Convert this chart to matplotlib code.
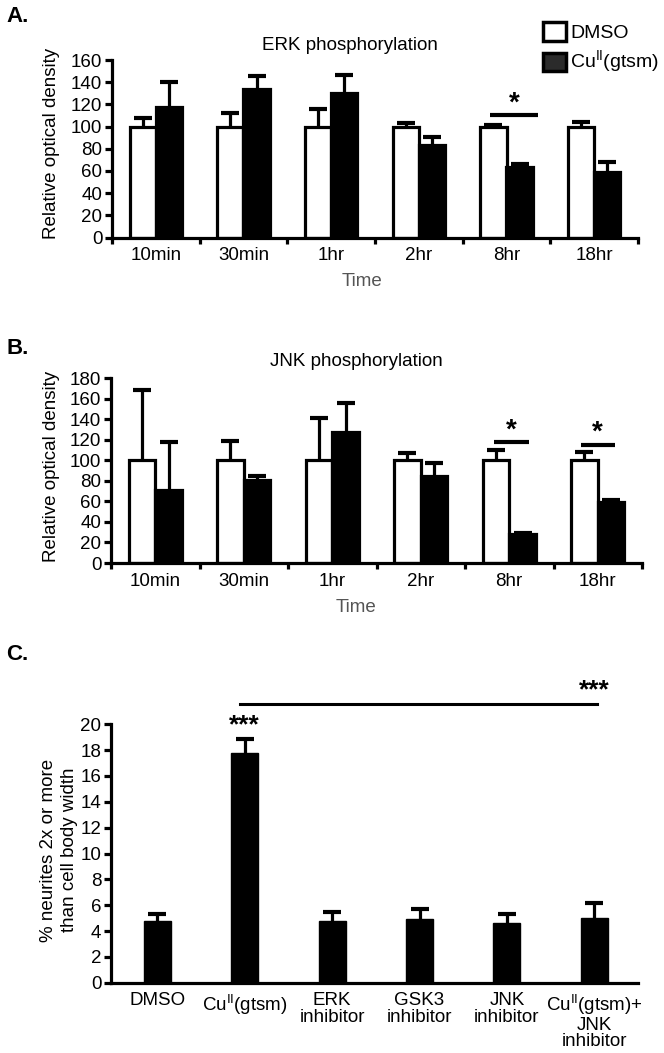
import numpy as np
import matplotlib
matplotlib.use("Agg")
import matplotlib.pyplot as plt
from matplotlib.patches import Patch

plt.rcParams['font.family'] = ['Liberation Sans', 'DejaVu Sans']
plt.rcParams['mathtext.fontset'] = 'custom'
plt.rcParams['mathtext.rm'] = 'Liberation Sans'

# ---------------- data ----------------
time_labels = ['10min', '30min', '1hr', '2hr', '8hr', '18hr']

erk_dmso = [100, 100, 100, 100, 100, 100]
erk_dmso_err = [7.5, 12, 16, 3, 1, 4.5]
erk_cu = [118, 133.5, 130, 83, 64, 59]
erk_cu_err = [22, 12.5, 16.5, 8, 2, 9]

jnk_dmso = [100, 100, 100, 100, 100, 100]
jnk_dmso_err = [68, 19, 41, 7, 9.5, 8]
jnk_cu = [71, 80.5, 127, 84.5, 28, 59]
jnk_cu_err = [47, 4.5, 29, 13, 1.5, 2.5]

c_labels = ['DMSO', 'Cu$^{\\mathregular{II}}$(gtsm)', 'ERK\ninhibitor',
            'GSK3\ninhibitor', 'JNK\ninhibitor',
            'Cu$^{\\mathregular{II}}$(gtsm)+\nJNK\ninhibitor']
c_vals = [4.8, 17.8, 4.8, 4.9, 4.6, 5.0]
c_err = [0.5, 1.05, 0.7, 0.8, 0.7, 1.15]

CU_LABEL = 'Cu$^{\\mathregular{II}}$(gtsm)'

W, H = 664, 1053
fig = plt.figure(figsize=(W / 100, H / 100), dpi=100)


def rect(l, t, r, b):
    return [l / W, 1 - b / H, (r - l) / W, (b - t) / H]


def ftxt(x, y, s, **kw):
    fig.text(x / W, 1 - y / H, s, **kw)


LW = 2.3
FS = 13.5


def errbars(ax, x, vals, errs):
    vals = np.asarray(vals, float)
    errs = np.asarray(errs, float)
    eb = ax.errorbar(x, vals, yerr=[np.zeros_like(errs), errs], fmt='none',
                     ecolor='black', elinewidth=LW, capsize=6.5, capthick=3,
                     zorder=1)
    for cl in eb[1]:
        if np.allclose(cl.get_ydata(), vals):
            cl.set_visible(False)


def style_axes(ax, ymax, ystep):
    for s in ['top', 'right']:
        ax.spines[s].set_visible(False)
    for s in ['left', 'bottom']:
        ax.spines[s].set_linewidth(LW)
    ax.set_ylim(0, ymax)
    ax.set_yticks(np.arange(0, ymax + 0.01, ystep))
    ax.tick_params(axis='y', width=LW, length=5, labelsize=FS, pad=2)


def time_panel(ax, dmso, dmso_err, cu, cu_err, ymax, ystep):
    x = np.arange(len(time_labels))
    w = 0.3
    ax.bar(x - w / 2, dmso, w, color='white', edgecolor='black', linewidth=LW, zorder=2)
    ax.bar(x + w / 2, cu, w, color='black', edgecolor='black', linewidth=LW, zorder=2)
    errbars(ax, x - w / 2, dmso, dmso_err)
    errbars(ax, x + w / 2, cu, cu_err)
    ax.set_xlim(-0.5, len(time_labels) - 0.5)
    style_axes(ax, ymax, ystep)
    ax.set_xticks(np.arange(-0.5, len(time_labels)))
    ax.set_xticklabels([])
    ax.set_xticks(x, minor=True)
    ax.set_xticklabels(time_labels, minor=True)
    ax.tick_params(axis='x', which='major', width=LW, length=4)
    ax.tick_params(axis='x', which='minor', length=0, labelsize=FS, pad=7)


def sig(ax, x0, x1, y, ystar, s='*', fs=20):
    ax.plot([x0, x1], [y, y], color='black', lw=3, clip_on=False,
            solid_capstyle='butt')
    ax.text((x0 + x1) / 2 if s == '*' else x1, ystar, s, ha='center',
            va='center', fontsize=fs, fontweight='bold', clip_on=False)


# ---------------- Panel A ----------------
axA = fig.add_axes(rect(112, 60, 638, 237.5))
time_panel(axA, erk_dmso, erk_dmso_err, erk_cu, erk_cu_err, 160, 20)
sig(axA, 3.81, 4.36, 110.5, 121)
ftxt(350, 45, 'ERK phosphorylation', ha='center', va='center', fontsize=FS)
ftxt(362, 282, 'Time', ha='center', va='center', fontsize=FS, color='#555555')
ftxt(52, 143, 'Relative optical density', ha='center', va='center',
     rotation=90, fontsize=FS)
ftxt(6, 16, 'A.', ha='left', va='center', fontsize=16, fontweight='bold')

handles = [Patch(facecolor='white', edgecolor='black', linewidth=2.5),
           Patch(facecolor='#2b2b2b', edgecolor='black', linewidth=2.5)]
fig.legend(handles, ['DMSO', CU_LABEL], loc='upper left',
           bbox_to_anchor=(543 / W, 1 - 22 / H), frameon=False,
           fontsize=FS + 0.5, handlelength=1.2, handleheight=1.1,
           handletextpad=0.2, labelspacing=0.35, borderpad=0,
           borderaxespad=0)

# ---------------- Panel B ----------------
axB = fig.add_axes(rect(111, 378, 642, 563))
time_panel(axB, jnk_dmso, jnk_dmso_err, jnk_cu, jnk_cu_err, 180, 20)
sig(axB, 3.83, 4.22, 117.5, 129)
sig(axB, 4.81, 5.19, 115, 126.5)
ftxt(356, 362, 'JNK phosphorylation', ha='center', va='center', fontsize=FS)
ftxt(356, 608, 'Time', ha='center', va='center', fontsize=FS, color='#555555')
ftxt(52, 466, 'Relative optical density', ha='center', va='center',
     rotation=90, fontsize=FS)
ftxt(6, 348, 'B.', ha='left', va='center', fontsize=16, fontweight='bold')

# ---------------- Panel C ----------------
axC = fig.add_axes(rect(111, 724.3, 638, 982.7))
xc = np.arange(len(c_labels))
axC.bar(xc, c_vals, 0.31, color='black', edgecolor='black', linewidth=1, zorder=2)
errbars(axC, xc, c_vals, c_err)
axC.set_xlim(-0.53, len(c_labels) - 0.5)
style_axes(axC, 20, 2)
axC.set_xticks(xc)
axC.set_xticklabels(c_labels, linespacing=0.95, va='top')
axC.tick_params(axis='x', length=0, labelsize=FS, pad=7)
axC.plot([0.95, 5.03], [21.6, 21.6], color='black', lw=2.2, clip_on=False)
axC.text(5.0, 22.6, '***', ha='center', va='center', fontsize=19,
         fontweight='bold', clip_on=False)
axC.text(1.0, 19.9, '***', ha='center', va='center', fontsize=19,
         fontweight='bold', clip_on=False)
ftxt(49, 850, '% neurites 2x or more', ha='center', va='center',
     rotation=90, fontsize=FS)
ftxt(69, 850, 'than cell body width', ha='center', va='center',
     rotation=90, fontsize=FS)
ftxt(6, 655, 'C.', ha='left', va='center', fontsize=16, fontweight='bold')

fig.savefig('out.png', dpi=100)
